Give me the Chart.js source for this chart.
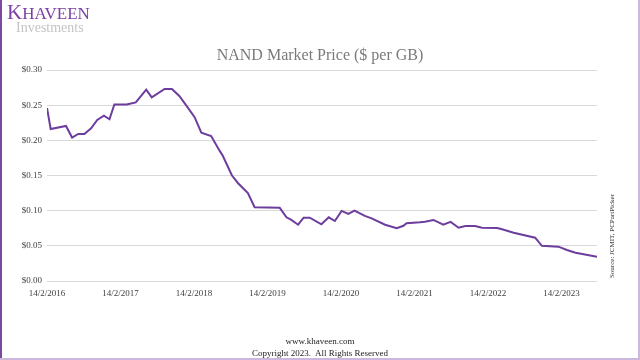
<!DOCTYPE html>
<html>
<head>
<meta charset="utf-8">
<script src="https://cdn.jsdelivr.net/npm/chart.js@4"></script>
<style>
  html, body { margin:0; padding:0; background:#fff; }
  #wrap { position:relative; width:640px; height:360px; overflow:hidden; background:#fff; }
  #c { position:absolute; left:0; top:0; }
  .t { position:absolute; white-space:nowrap; font-family:"Liberation Serif", "Times New Roman", serif; }
</style>
</head>
<body>
<div id="wrap">
  <canvas id="c" width="640" height="360"></canvas>
  <div class="t" style="left:7px; top:4.8px; font-size:17px; line-height:17px; color:#7a3fa3;"><span style="font-size:21px; line-height:0;">K</span>HAVEEN</div>
  <div class="t" style="left:16px; top:21.3px; font-size:14px; line-height:14px; color:#c4c4c4;">Investments</div>
  <div class="t" style="left:0; width:640px; text-align:center; top:46.6px; font-size:16px; line-height:16px; color:#7a7a7a;">NAND Market Price ($ per GB)</div>
  <div class="t" style="left:552px; width:120px; text-align:center; top:232px; font-size:7px; line-height:8px; height:8px; color:#333; transform:rotate(-90deg); transform-origin:60px 4px;">Source: JCMIT, PCPartPicker</div>
  <div class="t" style="left:0; width:640px; text-align:center; top:336.5px; font-size:9px; line-height:9px; color:#222;">www.khaveen.com</div>
  <div class="t" style="left:0; width:640px; text-align:center; top:348.5px; font-size:9px; line-height:9px; color:#222;">Copyright 2023.&nbsp; All Rights Reserved</div>
  <div style="position:absolute; left:0; top:0; width:2px; height:360px; background:#7b4a9f;"></div>
  <div style="position:absolute; right:0; top:0; width:2px; height:360px; background:#cbb8dc;"></div>
  <div style="position:absolute; left:0; bottom:0; width:640px; height:2px; background:#cbb8dc;"></div>
</div>
<script>
// months since 14/2/2016
const months = [0,0.6,3.1,4.1,5.1,6.1,7.2,8.2,9.3,10.2,11,13,14.5,16.2,17.1,19.2,20.4,21.6,22.7,24.1,25.2,26.8,28.2,28.7,30.2,31.2,32.8,33.9,38,39.1,39.9,41,41.9,42.9,44.8,46,47,48.1,49.2,50.2,51.9,53,55.2,57.1,58.2,58.7,60.9,61.7,63.1,64.7,65.9,67.2,68.3,69.9,71,73.5,74.3,76.2,79.7,80.8,83.5,84.9,86.3,89.8];
// NAND price, $ per GB
const prices = [0.246,0.216,0.2205,0.204,0.209,0.209,0.217,0.229,0.235,0.230,0.251,0.251,0.254,0.272,0.261,0.273,0.273,0.263,0.250,0.233,0.211,0.206,0.185,0.178,0.150,0.139,0.125,0.105,0.104,0.0906,0.0868,0.080,0.090,0.090,0.0806,0.0906,0.0853,0.0996,0.0953,0.100,0.0925,0.089,0.080,0.075,0.0785,0.082,0.0835,0.0844,0.0868,0.080,0.084,0.0758,0.0782,0.0782,0.0758,0.0754,0.0735,0.0687,0.0616,0.050,0.0488,0.0441,0.0403,0.0346];
const xTickMonths = [0,12,24,36,48,60,72,84];
const xTickLabels = ["14/2/2016","14/2/2017","14/2/2018","14/2/2019","14/2/2020","14/2/2021","14/2/2022","14/2/2023"];
const yTicks = [0,0.05,0.10,0.15,0.20,0.25,0.30];

const points = months.map((m, i) => ({ x: m, y: prices[i] }));

new Chart(document.getElementById('c'), {
  type: 'line',
  data: { datasets: [{ data: points, borderColor: '#6d3d9e', borderWidth: 2, pointRadius: 0, tension: 0, fill: false }] },
  options: {
    responsive: false,
    animation: false,
    plugins: { legend: { display: false }, tooltip: { enabled: false }, title: { display: false } },
    layout: { padding: { left: 0, right: 43, top: 70, bottom: 0 } },
    scales: {
      x: {
        type: 'linear', min: 0, max: 89.8,
        afterBuildTicks: s => { s.ticks = xTickMonths.map(v => ({ value: v })); },
        afterFit: s => { s.height = 79; },
        grid: { display: false, drawTicks: false },
        border: { display: false },
        ticks: {
          autoSkip: false, maxRotation: 0, minRotation: 0, padding: 7,
          font: { family: 'Liberation Serif', size: 9 }, color: '#404040',
          callback: v => xTickLabels[xTickMonths.indexOf(v)]
        }
      },
      y: {
        min: 0, max: 0.3,
        afterBuildTicks: s => { s.ticks = yTicks.map(v => ({ value: v })); },
        afterFit: s => { s.width = 47; },
        grid: { color: '#d9d9d9', drawTicks: false, lineWidth: 1 },
        border: { display: false },
        ticks: {
          padding: 5,
          font: { family: 'Liberation Serif', size: 9 }, color: '#404040',
          callback: v => '$' + Number(v).toFixed(2)
        }
      }
    }
  }
});
</script>
</body>
</html>
